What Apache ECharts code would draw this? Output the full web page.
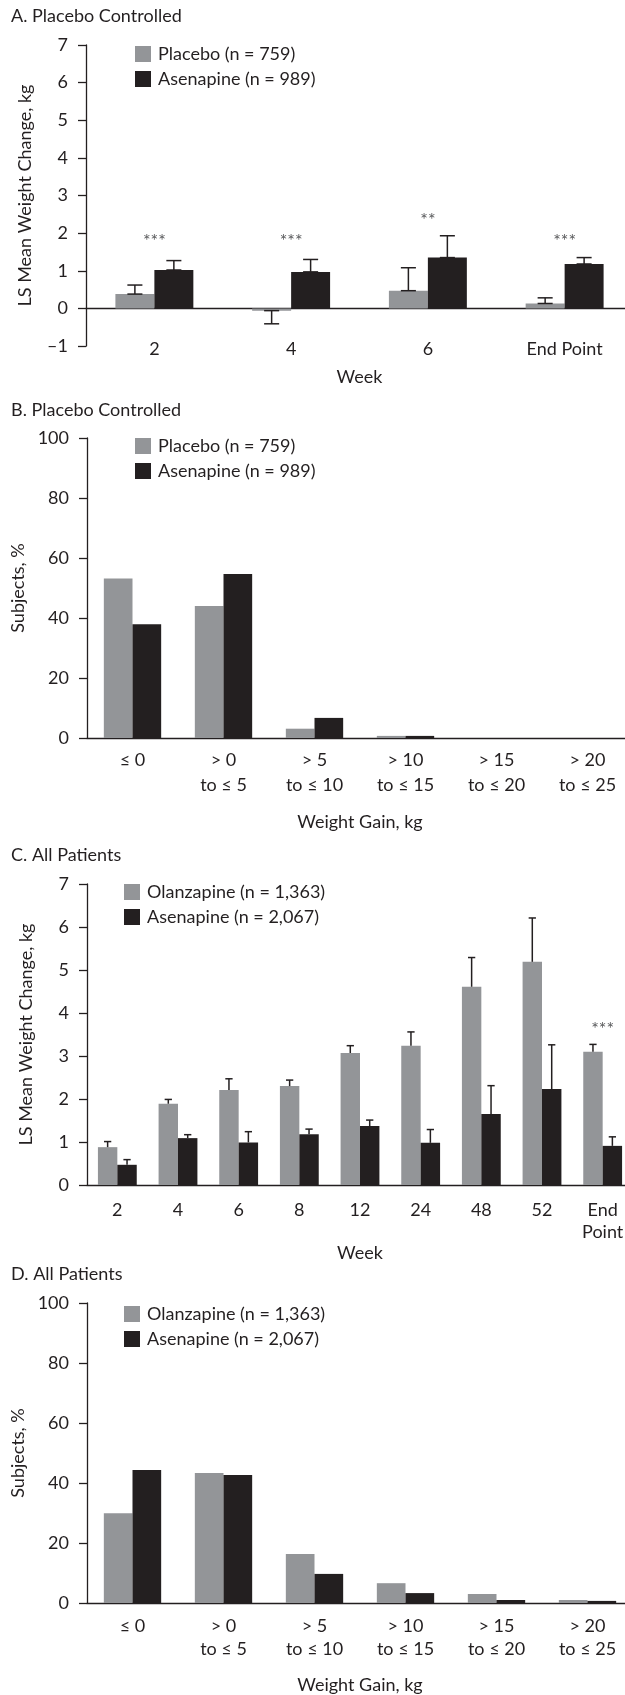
<!DOCTYPE html>
<html>
<head>
<meta charset="utf-8">
<title>Weight change</title>
<script src="https://cdn.jsdelivr.net/npm/echarts@6/dist/echarts.min.js"></script>
<style>
html, body { margin: 0; padding: 0; background: #fff; }
#chart { width: 625px; height: 1695px; }
</style>
</head>
<body>
<div id="chart"></div>
<script>
// A. placebo controlled, LS mean change (kg) with SE tops
const weekCatsA = ['2', '4', '6', 'End Point']
const placeboMeanA = [0.38, -0.06, 0.47, 0.13]
const placeboErrA = [0.62, -0.41, 1.08, 0.28]
const asenMeanA = [1.02, 0.97, 1.35, 1.18]
const asenErrA = [1.27, 1.30, 1.93, 1.35]
const sigCatsA = [0, 1, 2, 3]
const sigTextA = ['***', '***', '**', '***']
const sigLevelA = [1.9, 1.9, 2.45, 1.9]

// B / D. weight gain bins, % of subjects
const gainCats = ['≤ 0', '> 0\nto ≤ 5', '> 5\nto ≤ 10', '> 10\nto ≤ 15', '> 15\nto ≤ 20', '> 20\nto ≤ 25']
const placeboGainB = [53.2, 44.0, 3.1, 0.7, 0, 0]
const asenGainB = [37.9, 54.7, 6.7, 0.7, 0, 0]

// C. all patients
const weekCatsC = ['2', '4', '6', '8', '12', '24', '48', '52', 'End\nPoint']
const olanMeanC = [0.88, 1.89, 2.21, 2.30, 3.07, 3.24, 4.61, 5.19, 3.10]
const olanErrC = [1.01, 1.99, 2.47, 2.44, 3.24, 3.56, 5.29, 6.21, 3.27]
const asenMeanC = [0.47, 1.09, 0.99, 1.18, 1.37, 0.98, 1.65, 2.23, 0.91]
const asenErrC = [0.59, 1.17, 1.24, 1.30, 1.51, 1.29, 2.31, 3.26, 1.12]
const sigCatsC = [8]
const sigTextC = ['***']
const sigLevelC = [3.72]

const olanGainD = [29.9, 43.3, 16.3, 6.6, 3.0, 1.0]
const asenGainD = [44.3, 42.7, 9.7, 3.3, 1.0, 0.7]

const ink = '#231f20'
const grey = '#939598'
const font = 'Lato'

function errorBar(offset, capRatio, lowCap) {
  return function (params, api) {
    const i = api.value(0)
    const lo = api.coord([i, api.value(1)])
    const hi = api.coord([i, api.value(2)])
    const band = api.size([1, 0])[0]
    const x = lo[0] + band * offset
    const half = band * capRatio / 2
    const style = { stroke: ink, lineWidth: 1.5 }
    const kids = [
      { type: 'line', shape: { x1: x, y1: lo[1], x2: x, y2: hi[1] }, style },
      { type: 'line', shape: { x1: x - half, y1: hi[1], x2: x + half, y2: hi[1] }, style }
    ]
    if (lowCap) {
      kids.push({ type: 'line', shape: { x1: x - half, y1: lo[1], x2: x + half, y2: lo[1] }, style })
    }
    return { type: 'group', children: kids }
  }
}

function sigMark(texts) {
  return function (params, api) {
    const p = api.coord([api.value(0), api.value(1)])
    return {
      type: 'text',
      x: p[0],
      y: p[1] + 4,
      style: {
        text: texts[params.dataIndex],
        fill: '#58595b',
        fontSize: 18,
        fontFamily: font,
        align: 'center',
        verticalAlign: 'middle'
      }
    }
  }
}

function yAxis(idx, name, min, max, step) {
  return {
    type: 'value',
    gridIndex: idx,
    min, max, interval: step,
    name,
    nameLocation: 'middle',
    nameGap: 52,
    nameTextStyle: { color: ink, fontSize: 18, fontFamily: font },
    axisLine: { show: true, lineStyle: { color: ink, width: 1.3 } },
    axisTick: { show: true, length: 8, lineStyle: { color: ink, width: 1.3 } },
    axisLabel: {
      color: ink, fontSize: 18, fontFamily: font, margin: 18,
      formatter: v => String(v).replace('-', '–')
    },
    splitLine: { show: false }
  }
}

function xAxis(idx, cats, name, nameGap, margin, lineHeight) {
  return {
    type: 'category',
    gridIndex: idx,
    data: cats,
    name,
    nameLocation: 'middle',
    nameGap,
    nameTextStyle: { color: ink, fontSize: 18, fontFamily: font },
    axisLine: { onZero: true, lineStyle: { color: ink, width: 1.3 } },
    axisTick: { length: 7, interval: 0, lineStyle: { color: ink, width: 1.3 } },
    axisLabel: { interval: 0, color: ink, fontSize: 18, fontFamily: font, margin, lineHeight }
  }
}

function legend(names, left, top) {
  return {
    data: names,
    orient: 'vertical',
    left, top,
    padding: 0,
    itemWidth: 16,
    itemHeight: 16,
    itemGap: 7,
    icon: 'rect',
    selectedMode: false,
    textStyle: { color: ink, fontSize: 18, fontFamily: font, lineHeight: 16, padding: [0, 0, 0, 2] }
  }
}

function bar(name, idx, data, color, width) {
  return {
    name, type: 'bar',
    xAxisIndex: idx, yAxisIndex: idx,
    data, barWidth: width, barGap: '0%',
    itemStyle: { color },
    silent: true
  }
}

function errors(idx, means, tops, offset, cap, lowCap) {
  return {
    type: 'custom',
    xAxisIndex: idx, yAxisIndex: idx,
    renderItem: errorBar(offset, cap, lowCap),
    encode: { x: 0, y: [1, 2] },
    data: means.map((m, i) => [i, m, tops[i]]),
    z: 3,
    silent: true
  }
}

function stars(idx, cats, levels, texts) {
  return {
    type: 'custom',
    xAxisIndex: idx, yAxisIndex: idx,
    renderItem: sigMark(texts),
    encode: { x: 0, y: 1 },
    data: cats.map((c, i) => [c, levels[i]]),
    z: 4,
    silent: true
  }
}

const titleStyle = { color: ink, fontSize: 18, fontWeight: 'normal', fontFamily: font }

const chart = echarts.init(document.getElementById('chart'), null, { renderer: 'canvas' })
chart.setOption({
  animation: false,
  backgroundColor: '#fff',
  title: [
    { text: 'A. Placebo Controlled', left: 11, top: 7, padding: 0, textStyle: titleStyle },
    { text: 'B. Placebo Controlled', left: 11, top: 401, padding: 0, textStyle: titleStyle },
    { text: 'C. All Patients', left: 11, top: 846, padding: 0, textStyle: titleStyle },
    { text: 'D. All Patients', left: 11, top: 1265, padding: 0, textStyle: titleStyle }
  ],
  legend: [
    legend(['Placebo (n = 759)', 'Asenapine (n = 989)'], 135, 45),
    legend(['Placebo (n = 759)', 'Asenapine (n = 989)'], 135, 437),
    legend(['Olanzapine (n = 1,363)', 'Asenapine (n = 2,067)'], 124, 883),
    legend(['Olanzapine (n = 1,363)', 'Asenapine (n = 2,067)'], 124, 1305)
  ],
  grid: [
    { left: 86, top: 45, right: -8, height: 301, outerBoundsMode: 'none' },
    { left: 87, top: 438, right: -8, height: 300, outerBoundsMode: 'none' },
    { left: 87, top: 884, right: -8, height: 301, outerBoundsMode: 'none' },
    { left: 87, top: 1303, right: -8, height: 300, outerBoundsMode: 'none' }
  ],
  xAxis: [
    // panel A: line sits on zero, labels and name are laid out from the grid bottom
    xAxis(0, weekCatsA, 'Week', 22, -8, 22),
    xAxis(1, gainCats, 'Weight Gain, kg', 75, 10, 25),
    xAxis(2, weekCatsC, 'Week', 52, 14, 22),
    xAxis(3, gainCats, 'Weight Gain, kg', 73, 12, 23)
  ],
  yAxis: [
    yAxis(0, 'LS Mean Weight Change, kg', -1, 7, 1),
    yAxis(1, 'Subjects, %', 0, 100, 20),
    yAxis(2, 'LS Mean Weight Change, kg', 0, 7, 1),
    yAxis(3, 'Subjects, %', 0, 100, 20)
  ],
  series: [
    bar('Placebo (n = 759)', 0, placeboMeanA, grey, '28.5%'),
    bar('Asenapine (n = 989)', 0, asenMeanA, ink, '28.5%'),
    errors(0, placeboMeanA, placeboErrA, -0.1425, 0.11, true),
    errors(0, asenMeanA, asenErrA, 0.1425, 0.11, true),
    stars(0, sigCatsA, sigLevelA, sigTextA),

    bar('Placebo (n = 759)', 1, placeboGainB, grey, '31.5%'),
    bar('Asenapine (n = 989)', 1, asenGainB, ink, '31.5%'),

    bar('Olanzapine (n = 1,363)', 2, olanMeanC, grey, '32%'),
    bar('Asenapine (n = 2,067)', 2, asenMeanC, ink, '32%'),
    errors(2, olanMeanC, olanErrC, -0.16, 0.12, false),
    errors(2, asenMeanC, asenErrC, 0.16, 0.12, false),
    stars(2, sigCatsC, sigLevelC, sigTextC),

    bar('Olanzapine (n = 1,363)', 3, olanGainD, grey, '31.5%'),
    bar('Asenapine (n = 2,067)', 3, asenGainD, ink, '31.5%')
  ]
})
</script>
</body>
</html>
